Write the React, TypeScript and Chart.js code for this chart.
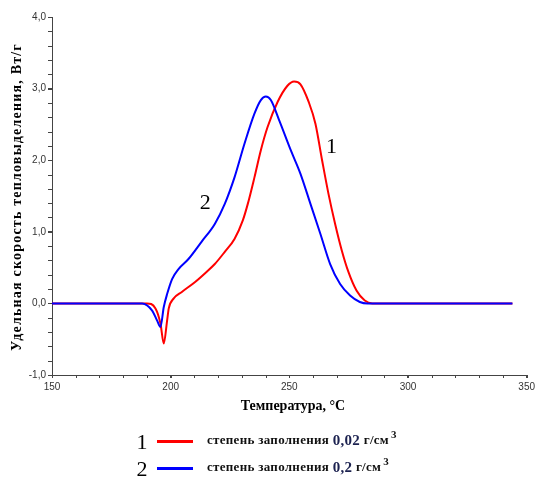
import React, { useEffect, useRef } from "react";
import { Chart, registerables } from "chart.js";

Chart.register(...registerables);

const tempRed = [150, 190, 193.6, 195.7, 197.1, 198.5, 199.2, 201.3, 204.7, 210.3, 215.1, 218.6, 222.8, 226.9, 230.4, 232.5, 235.3, 238, 240.8, 245, 249.2, 252, 254.7, 258.2, 261, 263.8, 266.5, 269.3, 272.1, 274.9, 278.3, 281.8, 285, 344];
const heatRed = [0, 0, -0.07, -0.28, -0.56, -0.24, -0.07, 0.07, 0.16, 0.3, 0.44, 0.55, 0.72, 0.9, 1.16, 1.39, 1.76, 2.14, 2.46, 2.81, 3.04, 3.1, 3.06, 2.81, 2.51, 2.0, 1.53, 1.11, 0.74, 0.44, 0.18, 0.04, 0, 0];

const tempBlue = [150, 188, 192.2, 194.3, 195.7, 197.1, 198.5, 200.6, 203.3, 207.5, 213, 218.6, 222.8, 226.9, 231.1, 235.3, 238, 240.1, 242.2, 245.7, 250.6, 254.7, 258.9, 263.1, 267.2, 271.4, 275.6, 279.7, 283, 344];
const heatBlue = [0, 0, -0.1, -0.24, -0.33, -0.05, 0.13, 0.34, 0.48, 0.62, 0.86, 1.11, 1.39, 1.76, 2.23, 2.65, 2.84, 2.89, 2.84, 2.56, 2.14, 1.81, 1.39, 0.97, 0.55, 0.27, 0.11, 0.02, 0, 0];

const seriesNumbers = ["1", "2"];
const seriesLabels = ["степень заполнения ", "степень заполнения "];
const seriesDensity = ["0,02", "0,2"];
const seriesUnit = " г/см";
const seriesColors = ["#ff0000", "#0000ff"];

const annotX = [267.8, 214.6];
const annotY = [2.18, 1.4];

const xTitle = "Температура, °C";
const yTitle = "Удельная скорость тепловыделения, Вт/г";

const xMin = 150, xMax = 350, xStep = 50, xMinor = 10;
const yMin = -1, yMax = 4, yStep = 1, yMinor = 0.2;

const toPts = (xs: number[], ys: number[]) => xs.map((x, i) => ({ x, y: ys[i] }));

const decorPlugin = {
  id: "decor",
  afterDraw(chart: any) {
    const ctx = chart.ctx;
    const xs = chart.scales.x;
    const ys = chart.scales.y;
    const area = chart.chartArea;
    ctx.save();
    // minor ticks
    ctx.strokeStyle = "#444";
    ctx.lineWidth = 1;
    ctx.beginPath();
    for (let v = xMin; v <= xMax + 1e-6; v += xMinor) {
      const px = Math.round(xs.getPixelForValue(v)) + 0.5;
      ctx.moveTo(px, area.bottom);
      ctx.lineTo(px, area.bottom + 3);
    }
    for (let v = yMin; v <= yMax + 1e-6; v += yMinor) {
      const py = Math.round(ys.getPixelForValue(v)) + 0.5;
      ctx.moveTo(area.left, py);
      ctx.lineTo(area.left - 4, py);
    }
    ctx.stroke();

    // annotations
    ctx.fillStyle = "#000";
    ctx.font = "22px 'Liberation Serif', 'DejaVu Serif', serif";
    ctx.textAlign = "center";
    ctx.textBaseline = "middle";
    seriesNumbers.forEach((n, i) => {
      ctx.fillText(n, xs.getPixelForValue(annotX[i]), ys.getPixelForValue(annotY[i]));
    });

    // x title
    ctx.font = "bold 14px 'Liberation Serif', serif";
    ctx.textAlign = "center";
    ctx.textBaseline = "middle";
    ctx.fillText(xTitle, 293, 406);

    // y title
    ctx.save();
    ctx.translate(17, 197);
    ctx.rotate(-Math.PI / 2);
    (ctx as any).letterSpacing = "1.2px";
    ctx.font = "bold 14px 'Liberation Serif', serif";
    ctx.fillText(yTitle, 0, 0);
    ctx.restore();

    // legend
    const rowsY = [442, 469];
    seriesNumbers.forEach((n, i) => {
      const y = rowsY[i];
      ctx.fillStyle = "#000";
      ctx.font = "22px 'Liberation Serif', serif";
      ctx.textAlign = "center";
      ctx.textBaseline = "middle";
      ctx.fillText(n, 142, y + 1);
      ctx.strokeStyle = seriesColors[i];
      ctx.lineWidth = 3;
      ctx.beginPath();
      ctx.moveTo(157, y - 0.5);
      ctx.lineTo(193, y - 0.5);
      ctx.stroke();
      ctx.textAlign = "left";
      (ctx as any).letterSpacing = "0.3px";
      ctx.font = "bold 13px 'Liberation Serif', serif";
      let x = 207;
      ctx.fillStyle = "#111";
      ctx.fillText(seriesLabels[i], x, y - 1);
      x += ctx.measureText(seriesLabels[i]).width;
      ctx.font = "bold 15px 'Liberation Serif', serif";
      ctx.fillStyle = "#1c2250";
      ctx.fillText(seriesDensity[i], x, y - 1);
      x += ctx.measureText(seriesDensity[i]).width;
      ctx.font = "bold 13px 'Liberation Serif', serif";
      ctx.fillStyle = "#111";
      ctx.fillText(seriesUnit, x, y - 1);
      x += ctx.measureText(seriesUnit).width;
      ctx.font = "bold 11px 'Liberation Serif', serif";
      ctx.fillText("3", x + 2, y - 7);
      (ctx as any).letterSpacing = "0px";
    });
    ctx.restore();
  },
};

export default function App() {
  const ref = useRef<HTMLCanvasElement>(null);
  useEffect(() => {
    if (!ref.current) return;
    const chart = new Chart(ref.current, {
      type: "line",
      data: {
        datasets: [
          {
            data: toPts(tempRed, heatRed),
            borderColor: seriesColors[0],
            borderWidth: 2,
            pointRadius: 0,
            cubicInterpolationMode: "monotone",
            fill: false,
            order: 1,
          },
          {
            data: toPts(tempBlue, heatBlue),
            borderColor: seriesColors[1],
            borderWidth: 2,
            pointRadius: 0,
            cubicInterpolationMode: "monotone",
            fill: false,
            order: 0,
          },
        ],
      },
      options: {
        animation: false,
        responsive: false,
        layout: { padding: { left: 0, right: 6, top: 17, bottom: 87 } },
        plugins: { legend: { display: false }, tooltip: { enabled: false } },
        scales: {
          x: {
            type: "linear",
            min: xMin,
            max: xMax,
            afterFit: (s: any) => { s.height = 20; },
            grid: { display: true, drawOnChartArea: false, drawTicks: true, tickLength: 3, color: "#444" },
            border: { display: true, color: "#444", width: 1 },
            ticks: {
              stepSize: xStep,
              padding: 3,
              color: "#333",
              font: { family: "'Liberation Sans', Arial, sans-serif", size: 10 },
              maxRotation: 0,
            },
          },
          y: {
            type: "linear",
            min: yMin,
            max: yMax,
            afterFit: (s: any) => { s.width = 52; },
            grid: { display: true, drawOnChartArea: false, drawTicks: true, tickLength: 4, color: "#444" },
            border: { display: true, color: "#444", width: 1 },
            ticks: {
              stepSize: yStep,
              padding: 2,
              color: "#333",
              font: { family: "'Liberation Sans', Arial, sans-serif", size: 10 },
              callback: (v: any) => Number(v).toFixed(1).replace(".", ","),
            },
          },
        },
      },
      plugins: [decorPlugin],
    });
    return () => chart.destroy();
  }, []);
  return (
    <div style={{ position: "fixed", left: 0, top: 0, width: 538, height: 482, background: "#fff" }}>
      <canvas ref={ref} width={538} height={482} style={{ width: 538, height: 482 }} />
    </div>
  );
}
